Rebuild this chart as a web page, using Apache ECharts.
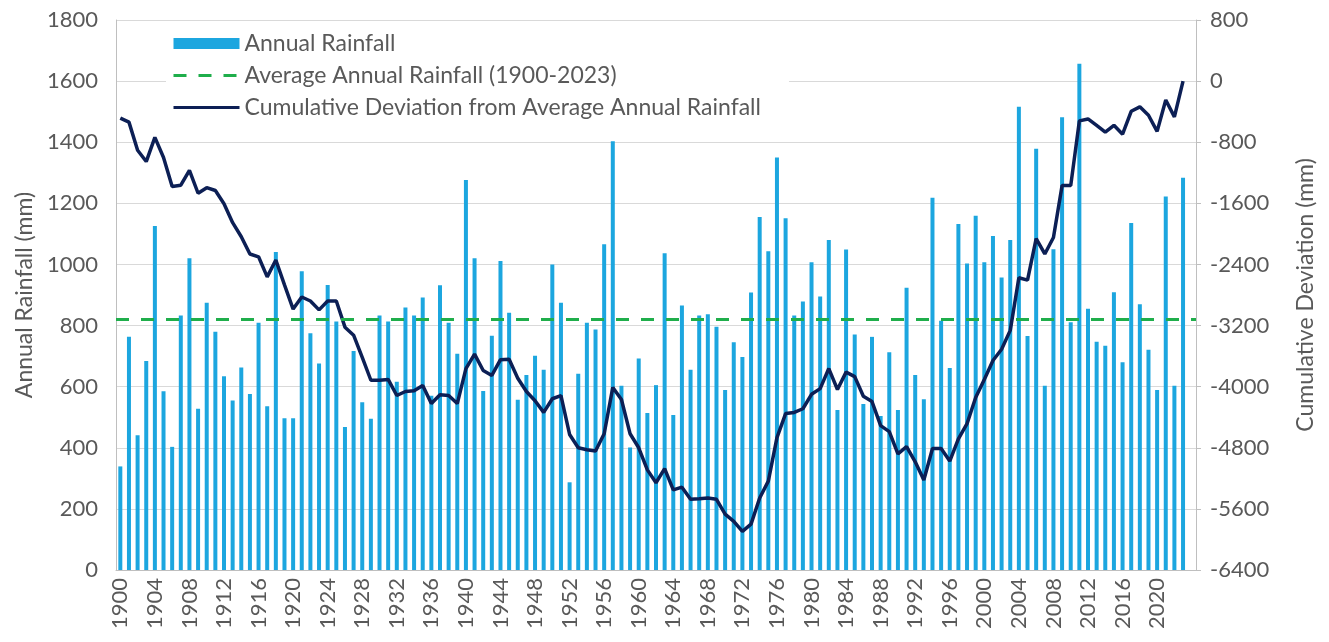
<!DOCTYPE html>
<html>
<head>
<meta charset="utf-8">
<title>Annual Rainfall</title>
<style>
  html, body { margin: 0; padding: 0; background: #fff; }
  #chart { width: 1329px; height: 642px; }
</style>
<script src="https://cdn.jsdelivr.net/npm/echarts@6/dist/echarts.min.js"></script>
</head>
<body>
<div id="chart"></div>
<script>
// year categories 1900-2023
const years = []
for (let y = 1900; y <= 2023; y++) years.push(String(y))

// annual rainfall (mm)
const rainfall = [
  339, 763, 441, 684, 1126, 585, 403, 833, 1020, 528,
  875, 780, 634, 555, 663, 576, 809, 536, 1041, 497,
  497, 978, 775, 676, 933, 813, 468, 717, 549, 495,
  833, 813, 616, 859, 833, 892, 570, 932, 809, 708,
  1276, 1020, 586, 767, 1011, 842, 557, 638, 701, 655,
  1000, 875, 287, 642, 809, 787, 1066, 1403, 603, 401,
  692, 514, 605, 1037, 507, 866, 655, 833, 837, 796,
  589, 745, 697, 908, 1155, 1043, 1350, 1151, 833, 879,
  1007, 895, 1080, 524, 1049, 771, 543, 763, 504, 713,
  524, 924, 638, 559, 1218, 816, 661, 1132, 1003, 1159,
  1007, 1093, 957, 1080, 1516, 766, 1379, 603, 1050, 1482,
  811, 1657, 855, 747, 734, 909, 680, 1136, 870, 721,
  589, 1222, 603, 1284,
]

// cumulative deviation from the average (mm)
const cumulativeDeviation = [
  -484, -537, -905, -1053, -737, -1000, -1379, -1363, -1168, -1468,
  -1395, -1432, -1605, -1853, -2037, -2263, -2300, -2563, -2342, -2668,
  -2984, -2826, -2879, -2995, -2879, -2879, -3221, -3326, -3616, -3916,
  -3916, -3905, -4116, -4063, -4053, -3984, -4221, -4105, -4116, -4221,
  -3763, -3574, -3789, -3853, -3647, -3642, -3889, -4063, -4184, -4337,
  -4158, -4116, -4626, -4800, -4826, -4842, -4616, -4010, -4168, -4616,
  -4800, -5089, -5258, -5074, -5352, -5316, -5474, -5468, -5458, -5474,
  -5668, -5763, -5895, -5800, -5458, -5237, -4668, -4352, -4337, -4289,
  -4100, -4026, -3763, -4037, -3810, -3868, -4126, -4195, -4510, -4589,
  -4879, -4784, -4984, -5221, -4810, -4810, -4974, -4684, -4484, -4142,
  -3905, -3658, -3510, -3263, -2574, -2605, -2063, -2263, -2047, -1368,
  -1368, -521, -495, -579, -668, -579, -695, -395, -337, -447,
  -658, -247, -468, 0,
]

// average annual rainfall 1900-2023 (mm)
const averageRainfall = 822

// axis ranges
const rainAxis = { min: 0, max: 1800, interval: 200 }
const devAxis = { min: -6400, max: 800, interval: 800 }

const textColor = '#595959'
const fontFamily = 'Lato, "Open Sans", sans-serif'
const plain = (v) => String(v) // no thousands separator

const chart = echarts.init(document.getElementById('chart'), null, { renderer: 'canvas' })

chart.setOption({
  animation: false,
  textStyle: { fontFamily: fontFamily, color: textColor },
  grid: {
    left: 116,
    right: 133,
    top: 20,
    bottom: 72,
    containLabel: false,
    outerBoundsMode: 'none',
  },
  legend: {
    orient: 'vertical',
    left: 166,
    top: 26,
    padding: [4, 28, 4, 6],
    itemGap: 5,
    itemWidth: 66,
    itemHeight: 11,
    backgroundColor: '#fff',
    lineStyle: { width: 3 },
    textStyle: { fontSize: 23, color: textColor, fontFamily: fontFamily, lineHeight: 27 },
    data: [
      { name: 'Annual Rainfall', icon: 'rect' },
      { name: 'Average Annual Rainfall (1900-2023)', itemStyle: { opacity: 0 } },
      { name: 'Cumulative Deviation from Average Annual Rainfall', itemStyle: { opacity: 0 } },
    ],
  },
  xAxis: {
    type: 'category',
    data: years.concat(['']), // one empty slot after 2023, like the source
    boundaryGap: true,
    axisLine: { lineStyle: { color: '#bfbfbf', width: 1 } },
    axisTick: { show: false },
    axisLabel: {
      rotate: 90,
      interval: 3,
      fontSize: 22,
      color: textColor,
      fontFamily: fontFamily,
      margin: 8,
    },
  },
  yAxis: [
    {
      type: 'value',
      min: rainAxis.min,
      max: rainAxis.max,
      interval: rainAxis.interval,
      name: 'Annual Rainfall (mm)',
      nameLocation: 'middle',
      nameGap: 80,
      nameTextStyle: { fontSize: 23, color: textColor, fontFamily: fontFamily },
      axisLine: { show: true, lineStyle: { color: '#bfbfbf' } },
      axisTick: { show: false },
      axisLabel: { fontSize: 22, color: textColor, fontFamily: fontFamily, margin: 18, formatter: plain },
      splitLine: { lineStyle: { color: '#d9d9d9', width: 1 } },
    },
    {
      type: 'value',
      min: devAxis.min,
      max: devAxis.max,
      interval: devAxis.interval,
      position: 'right',
      name: 'Cumulative Deviation (mm)',
      nameLocation: 'middle',
      nameGap: 98,
      nameTextStyle: { fontSize: 23, color: textColor, fontFamily: fontFamily },
      axisLine: { show: true, lineStyle: { color: '#bfbfbf' } },
      axisTick: { show: true, length: 5, lineStyle: { color: '#bfbfbf' } },
      axisLabel: { fontSize: 22, color: textColor, fontFamily: fontFamily, margin: 14, formatter: plain },
      splitLine: { show: false },
    },
  ],
  series: [
    {
      name: 'Annual Rainfall',
      type: 'bar',
      data: rainfall,
      barWidth: 4,
      itemStyle: { color: '#1ca6df' },
    },
    {
      name: 'Average Annual Rainfall (1900-2023)',
      type: 'line',
      data: [],
      symbol: 'none',
      itemStyle: { color: '#1fae4b' },
      lineStyle: { color: '#1fae4b', width: 3, type: [13, 12] },
      markLine: {
        silent: true,
        symbol: 'none',
        label: { show: false },
        lineStyle: { color: '#1fae4b', width: 3, type: [13, 12] },
        data: [{ yAxis: averageRainfall }],
      },
      z: 3,
    },
    {
      name: 'Cumulative Deviation from Average Annual Rainfall',
      type: 'line',
      yAxisIndex: 1,
      data: cumulativeDeviation,
      symbol: 'none',
      itemStyle: { color: '#0c1f55' },
      lineStyle: { color: '#0c1f55', width: 3.5 },
      z: 4,
    },
  ],
})
</script>
</body>
</html>
